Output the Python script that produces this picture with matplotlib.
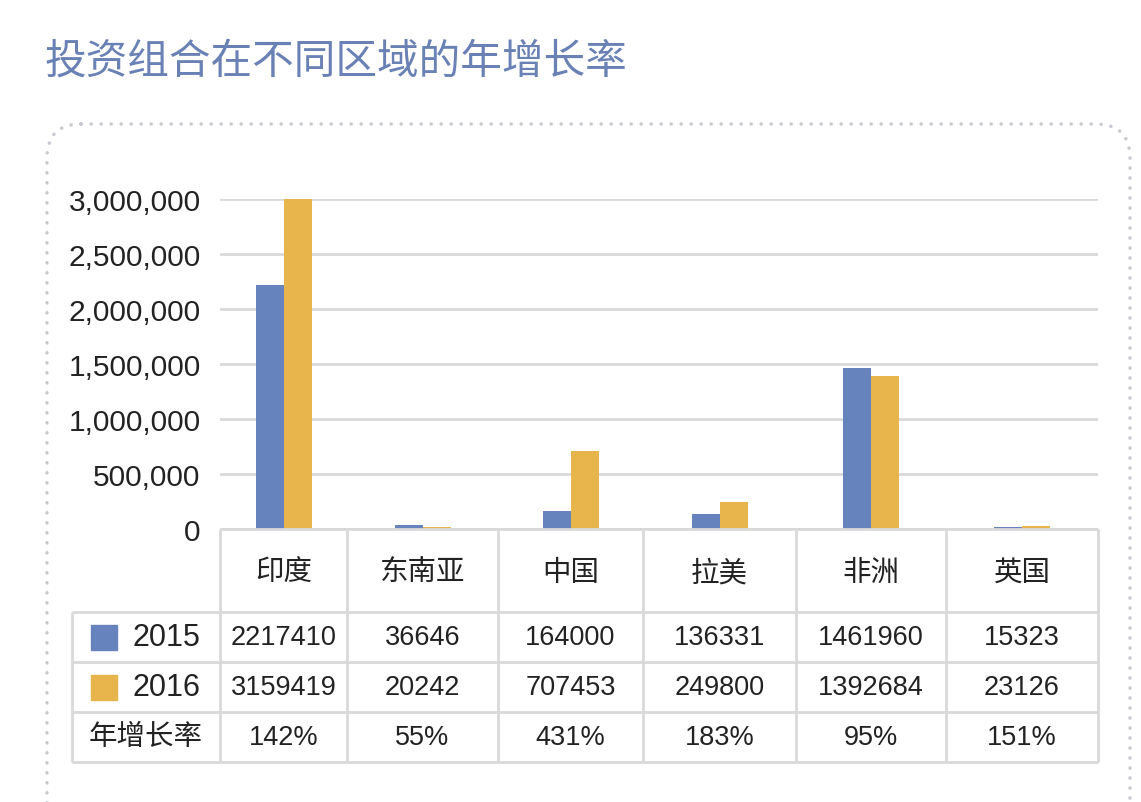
import matplotlib.pyplot as plt
import numpy as np
from matplotlib.patches import FancyBboxPatch, Rectangle

plt.rcParams["font.family"] = ["Liberation Sans", "Noto Sans CJK SC"]

W, H = 1141, 803

title = "投资组合在不同区域的年增长率"
regions = ["印度", "东南亚", "中国", "拉美", "非洲", "英国"]
years = ["2015", "2016"]
values_2015 = [2217410, 36646, 164000, 136331, 1461960, 15323]
values_2016 = [3159419, 20242, 707453, 249800, 1392684, 23126]
growth_label = "年增长率"
growth = ["142%", "55%", "431%", "183%", "95%", "151%"]
y_ticks = [0, 500000, 1000000, 1500000, 2000000, 2500000, 3000000]

BLUE = "#6783bd"
GOLD = "#e8b54c"
GRID = "#d9d9d9"
TEXT = "#222222"

# column widths of the table (px), bars sit in the middle of each column
col_w = np.array([127, 151, 145, 153, 150, 152])
edges = np.concatenate([[0], np.cumsum(col_w)])
centers = edges[:-1] + col_w / 2
BAR_W = 28
LABEL_W = 148
ROWS = [0, 1.66, 2.66, 3.66, 4.66]


def px_axes(fig, x0, y0, x1, y1):
    return fig.add_axes([x0 / W, 1 - y1 / H, (x1 - x0) / W, (y1 - y0) / H])


fig = plt.figure(figsize=(W / 100, H / 100), dpi=100)

# background: title + dotted rounded frame
bg = px_axes(fig, 0, 0, W, H)
bg.set_xlim(0, W)
bg.set_ylim(H, 0)
bg.axis("off")
bg.add_patch(FancyBboxPatch(
    (47, 125), 1083, 740,
    boxstyle="round,pad=0,rounding_size=34",
    fill=False, ec="#c6cad0", lw=2.4,
    linestyle=(0, (0.1, 2.9)), capstyle="round",
))
bg.text(45, 63, title, fontsize=30, color="#6a81b5", ha="left", va="center")

# bars
ax = px_axes(fig, 220, 200, 1098, 530)
ax.set_facecolor("none")
ax.bar(centers - BAR_W / 2, values_2015, width=BAR_W, color=BLUE, zorder=3)
ax.bar(centers + BAR_W / 2, values_2016, width=BAR_W, color=GOLD, zorder=3)
ax.set_xlim(0, edges[-1])
ax.set_ylim(0, y_ticks[-1])
ax.set_yticks(y_ticks)
ax.set_yticklabels([f"{v:,}" for v in y_ticks], fontsize=21.5, color=TEXT)
ax.set_xticks([])
ax.yaxis.grid(True, color=GRID, lw=2)
ax.set_axisbelow(True)
ax.tick_params(length=0, pad=14)
for s in ax.spines.values():
    s.set_visible(False)

# data table under the bars
tb = px_axes(fig, 220 - LABEL_W, 530, 1098, 763)
tb.set_xlim(-LABEL_W, edges[-1])
tb.set_ylim(ROWS[-1], 0)
tb.axis("off")

line_kw = dict(color=GRID, lw=2, clip_on=False, solid_capstyle="butt")
tb.plot([0, edges[-1]], [0, 0], **line_kw)
for y in ROWS[1:]:
    tb.plot([-LABEL_W, edges[-1]], [y, y], **line_kw)
tb.plot([-LABEL_W, -LABEL_W], [ROWS[1], ROWS[-1]], **line_kw)
for x in edges:
    tb.plot([x, x], [0, ROWS[-1]], **line_kw)

mid = [(ROWS[i] + ROWS[i + 1]) / 2 for i in range(4)]
for i, c in enumerate(centers):
    tb.text(c, mid[0] + 0.05, regions[i], fontsize=20.5, color=TEXT, ha="center", va="center")
    tb.text(c, mid[1], str(values_2015[i]), fontsize=19.5, color=TEXT, ha="center", va="center")
    tb.text(c, mid[2], str(values_2016[i]), fontsize=19.5, color=TEXT, ha="center", va="center")
    tb.text(c, mid[3], growth[i], fontsize=19.5, color=TEXT, ha="center", va="center")

for yr, color, m in zip(years, [BLUE, GOLD], mid[1:3]):
    tb.add_patch(Rectangle((-129, m - 0.25), 26, 0.5, color=color, clip_on=False))
    tb.text(-88, m, yr, fontsize=22, color=TEXT, ha="left", va="center")
tb.text(-LABEL_W / 2, mid[3], growth_label, fontsize=20.5, color=TEXT, ha="center", va="center")

fig.savefig("out.png", dpi=100)
